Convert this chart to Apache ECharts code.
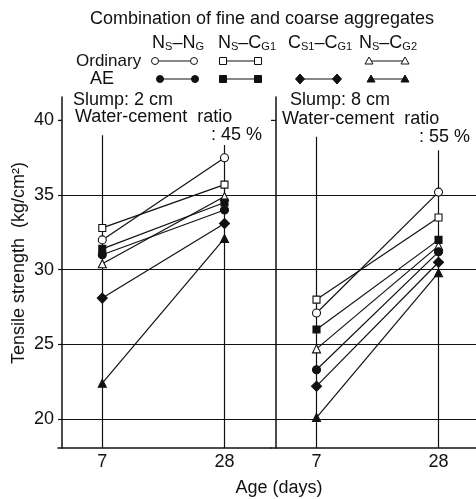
<!DOCTYPE html>
<html>
<head>
<meta charset="utf-8">
<script src="https://cdn.jsdelivr.net/npm/echarts@6/dist/echarts.min.js"></script>
<style>
html,body{margin:0;padding:0;background:#fff;}
#chart{width:476px;height:499px;}
</style>
</head>
<body>
<div id="chart"></div>
<script>
// ---- data ----
const ages = [7, 28];
const ageLabels = [7, 28];
const yTickLabels = [20, 25, 30, 35, 40];
const gridValues = [20, 25, 30, 35];

// Slump 2 cm, water-cement ratio 45 %
const ordNsNg_45 = [32.0, 37.5];
const ordNsCg1_45 = [32.8, 35.7];
const ordNsCg2_45 = [30.4, 34.9];
const aeNsNg_45 = [31.0, 34.0];
const aeNsCg1_45 = [31.4, 34.5];
const aeCs1Cg1_45 = [28.1, 33.1];
const aeNsCg2_45 = [22.4, 32.1];

// Slump 8 cm, water-cement ratio 55 %
const ordNsNg_55 = [27.1, 35.2];
const ordNsCg1_55 = [28.0, 33.5];
const ordNsCg2_55 = [24.7, 31.6];
const aeNsNg_55 = [23.3, 31.2];
const aeNsCg1_55 = [26.0, 32.0];
const aeCs1Cg1_55 = [22.2, 30.5];
const aeNsCg2_55 = [20.1, 29.8];

// ---- chart ----
const FONT = '"Liberation Sans", Arial, sans-serif';
const INK = '#111';
const chart = echarts.init(document.getElementById('chart'), null, {renderer: 'canvas'});

const Y_MIN = 18.06, Y_MAX = 41.57;

function pairs(vals) { return ages.map((a, i) => [a, vals[i]]); }

const symbolSize = {circle: 8, rect: 7, diamond: 10, triangle: 8};
function mk(name, vals, symbol, filled, idx) {
  return {
    name: name, type: 'line', xAxisIndex: idx, yAxisIndex: idx,
    data: pairs(vals), symbol: symbol, symbolSize: symbolSize[symbol],
    showSymbol: true, animation: false, silent: true, z: 5,
    lineStyle: {color: INK, width: 1.2},
    itemStyle: {color: filled ? INK : '#fff', borderColor: INK, borderWidth: 1.1, opacity: 1}
  };
}

function guideLines(idx, tops) {
  return {
    type: 'line', xAxisIndex: idx, yAxisIndex: idx, data: [], silent: true, animation: false,
    markLine: {
      silent: true, symbol: 'none', animation: false,
      label: {show: false},
      lineStyle: {color: INK, width: 1.2, type: 'solid'},
      data: gridValues.map(v => ({yAxis: v})).concat(
        ages.map((a, i) => [{coord: [a, Y_MIN]}, {coord: [a, tops[i]]}]))
    }
  };
}

const series = [
  guideLines(0, [39.0, 38.35]),
  mk('Ordinary Ns-NG', ordNsNg_45, 'circle', false, 0),
  mk('Ordinary Ns-CG1', ordNsCg1_45, 'rect', false, 0),
  mk('Ordinary Ns-CG2', ordNsCg2_45, 'triangle', false, 0),
  mk('AE Ns-NG', aeNsNg_45, 'circle', true, 0),
  mk('AE Ns-CG1', aeNsCg1_45, 'rect', true, 0),
  mk('AE Cs1-CG1', aeCs1Cg1_45, 'diamond', true, 0),
  mk('AE Ns-CG2', aeNsCg2_45, 'triangle', true, 0),
  guideLines(1, [38.9, 38.0]),
  mk('Ordinary Ns-NG', ordNsNg_55, 'circle', false, 1),
  mk('Ordinary Ns-CG1', ordNsCg1_55, 'rect', false, 1),
  mk('Ordinary Ns-CG2', ordNsCg2_55, 'triangle', false, 1),
  mk('AE Ns-NG', aeNsNg_55, 'circle', true, 1),
  mk('AE Ns-CG1', aeNsCg1_55, 'rect', true, 1),
  mk('AE Cs1-CG1', aeCs1Cg1_55, 'diamond', true, 1),
  mk('AE Ns-CG2', aeNsCg2_55, 'triangle', true, 1)
];

function xAxis(idx, min, max) {
  return {
    type: 'value', gridIndex: idx, min: min, max: max,
    axisLine: {show: true, lineStyle: {color: INK, width: 1.5}},
    axisTick: {show: false},
    splitLine: {show: false},
    axisLabel: {show: true, customValues: ageLabels, color: INK, fontSize: 18, fontFamily: FONT, margin: 5}
  };
}
function yAxis(idx, labels) {
  return {
    type: 'value', gridIndex: idx, min: Y_MIN, max: Y_MAX,
    axisLine: {show: true, lineStyle: {color: INK, width: 1.5}},
    axisTick: {show: labels, customValues: yTickLabels, length: 3, lineStyle: {color: INK, width: 1.2}},
    splitLine: {show: false},
    axisLabel: {show: labels, customValues: yTickLabels, color: INK, fontSize: 18, fontFamily: FONT, margin: 4}
  };
}

// legend / annotation graphics
const g = [];
function txt(x, y, text, size, align, extra) {
  const el = {type: 'text', x: x, y: y, silent: true,
    style: Object.assign({text: text, fill: INK, fontSize: size, fontFamily: FONT,
      textAlign: align || 'left', textVerticalAlign: 'middle'}, extra || {})};
  return el;
}
const richParts = {
  b: {fontSize: 18, fontFamily: FONT, fill: INK, lineHeight: 18, verticalAlign: 'bottom'},
  s: {fontSize: 11, fontFamily: FONT, fill: INK, lineHeight: 13, verticalAlign: 'bottom'}
};
g.push(txt(262, 19, 'Combination of fine and coarse aggregates', 18, 'center'));
g.push(txt(178, 43, '{b|N}{s|S}{b|–N}{s|G}', 18, 'center', {rich: richParts}));
g.push(txt(247, 43, '{b|N}{s|S}{b|–C}{s|G1}', 18, 'center', {rich: richParts}));
g.push(txt(320, 43, '{b|C}{s|S1}{b|–C}{s|G1}', 18, 'center', {rich: richParts}));
g.push(txt(388, 43, '{b|N}{s|S}{b|–C}{s|G2}', 18, 'center', {rich: richParts}));
g.push(txt(76, 61, 'Ordinary', 17, 'left'));
g.push(txt(90, 79, 'AE', 18, 'left'));

function legendSym(x1, x2, y, kind, filled) {
  g.push({type: 'line', silent: true, shape: {x1: x1, y1: y, x2: x2, y2: y}, style: {stroke: INK, lineWidth: 1.2}});
  [x1, x2].forEach(x => {
    const st = {fill: filled ? INK : '#fff', stroke: INK, lineWidth: 1};
    if (kind === 'circle') g.push({type: 'circle', silent: true, z: 10, shape: {cx: x, cy: y, r: 3.5}, style: st});
    if (kind === 'rect') g.push({type: 'rect', silent: true, z: 10, shape: {x: x - 3.5, y: y - 3.5, width: 7, height: 7}, style: st});
    if (kind === 'diamond') g.push({type: 'polygon', silent: true, z: 10, shape: {points: [[x, y - 5], [x + 4.5, y], [x, y + 5], [x - 4.5, y]]}, style: st});
    if (kind === 'triangle') g.push({type: 'polygon', silent: true, z: 10, shape: {points: [[x, y - 4], [x + 4, y + 3], [x - 4, y + 3]]}, style: st});
  });
}
legendSym(155, 194, 61, 'circle', false);
legendSym(223, 258, 61, 'rect', false);
legendSym(369, 405, 61, 'triangle', false);
legendSym(160, 195, 79, 'circle', true);
legendSym(223, 258, 79, 'rect', true);
legendSym(300, 337, 79, 'diamond', true);
legendSym(371, 405, 79, 'triangle', true);

g.push(txt(73, 100, 'Slump: 2 cm', 18, 'left'));
g.push(txt(75, 117, 'Water-cement  ratio', 18, 'left'));
g.push(txt(262, 135, ': 45 %', 18, 'right'));
g.push(txt(290, 100, 'Slump: 8 cm', 18, 'left'));
g.push(txt(282, 119, 'Water-cement  ratio', 18, 'left'));
g.push(txt(470, 137, ': 55 %', 18, 'right'));
g.push({type: 'line', silent: true, shape: {x1: 58, y1: 120.4, x2: 62, y2: 120.4}, style: {stroke: INK, lineWidth: 1.2}});
g.push({type: 'line', silent: true, shape: {x1: 271, y1: 120.4, x2: 276, y2: 120.4}, style: {stroke: INK, lineWidth: 1.2}});

g.push(Object.assign(txt(19, 263, 'Tensile strength  (kg/cm²)', 18, 'center'), {rotation: Math.PI / 2}));
g.push(txt(279, 488, 'Age (days)', 18, 'center'));

chart.setOption({
  backgroundColor: '#fff',
  animation: false,
  grid: [
    {left: 58, top: 97, width: 213, height: 351, containLabel: false},
    {left: 271, top: 97, width: 205, height: 351, containLabel: false}
  ],
  xAxis: [xAxis(0, -0.61, 35.99), xAxis(1, -0.83, 34.45)],
  yAxis: [yAxis(0, true), yAxis(1, false)],
  series: series,
  graphic: g
});
</script>
</body>
</html>
